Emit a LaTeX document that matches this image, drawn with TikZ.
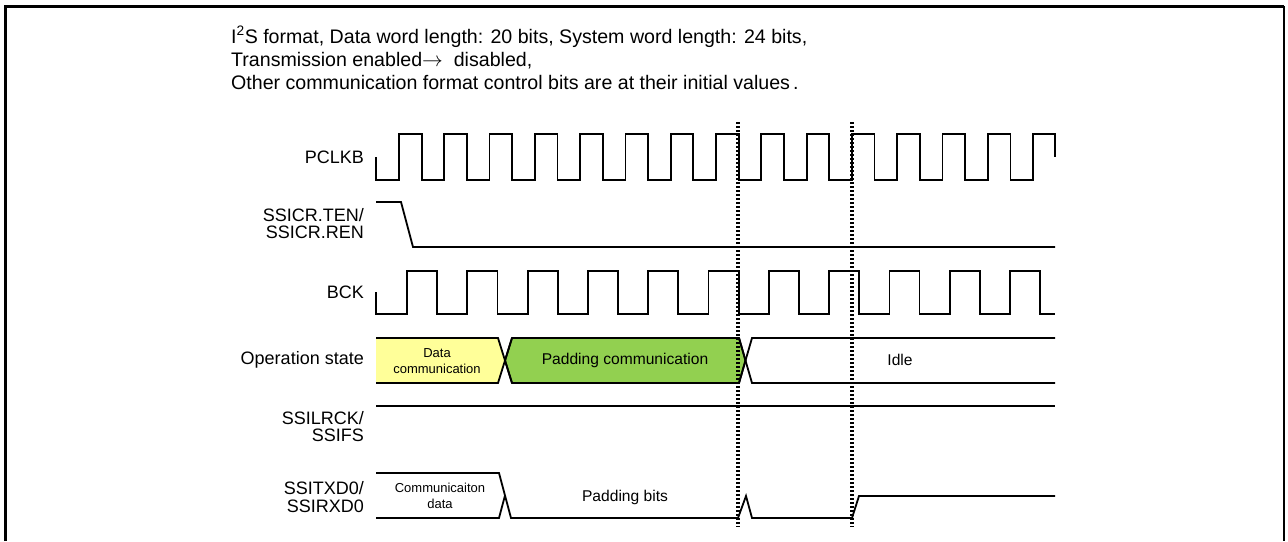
\documentclass[tikz,border=0pt]{standalone}
\usepackage{fontspec}
\setmainfont{Liberation Sans}
\definecolor{datayellow}{HTML}{FFFF99}
\definecolor{padgreen}{HTML}{92D050}
\begin{document}
\begin{tikzpicture}[x=1pt,y=-1pt,
  sig/.style={line width=1.8pt,line join=miter},
  lbl/.style={anchor=east,align=right,inner sep=0pt,font=\fontsize{18}{17.5}\selectfont},
  hdr/.style={anchor=base west,inner sep=0pt,font=\fontsize{19.6}{22}\selectfont},
  mid/.style={inner sep=0pt,align=center,font=\fontsize{15.6}{18}\selectfont},
  small/.style={inner sep=0pt,align=center,font=\fontsize{13}{16}\selectfont},
  mark line/.style={line width=3.2pt,dash pattern=on 2.4pt off 1.6pt}]
\useasboundingbox (0,0) rectangle (1288,541);
% frame
\draw[line width=3pt] (5.5,541) -- (5.5,6) -- (1283.5,6);
\draw[line width=2pt] (1283.5,6) -- (1283.5,541);
% header
\node[hdr] (h1) at (231,43) {I\textsuperscript{2}S format, Data word length: 20 bits, System word length: 24 bits,};
\node[hdr] (h2) at (231,66) {Transmission enabled$\rightarrow$\ \ disabled,};
\node[hdr] (h3) at (231,89) {Other communication format control bits are at their initial values\,.};
% labels
\node[lbl] (lpclk) at (364,157) {PCLKB};
\node[lbl] (lten) at (364,223.5) {SSICR.TEN/\\SSICR.REN};
\node[lbl] (lbck) at (364,292) {BCK};
\node[lbl] (lop) at (364,360) {Operation state};
\node[lbl] (llr) at (364,426.5) {SSILRCK/\\SSIFS};
\node[lbl] (ltx) at (364,497) {SSITXD0/\\SSIRXD0};
% PCLKB
\draw[sig] (376,157) -- (376,180)
  foreach \k in {0,...,13} { -- ({399+45.29*\k},180) -- ++(0,-46) -- ++(22.64,0) -- ++(0,46) }
  -- (1033,180) -- (1033,134) -- (1055,134) -- (1055,157);
% SSICR.TEN
\draw[sig] (376,202) -- (401,202) -- (413,247) -- (1055,247);
% BCK
\draw[sig] (376,292) -- (376,314)
  foreach \k in {0,...,10} { -- ({407+60.3*\k},314) -- ++(0,-43) -- ++(30.15,0) -- ++(0,43) }
  -- (1055,314);
% Operation state
\fill[datayellow] (376,338) -- (498,338) -- (505,360.5) -- (498,383) -- (376,383) -- cycle;
\draw[sig,fill=padgreen] (505,360.5) -- (512,338) -- (739,338) -- (745.5,360.5) -- (739,383) -- (512,383) -- cycle;
\draw[sig] (376,338) -- (498,338) -- (512,383);
\draw[sig] (376,383) -- (498,383) -- (512,338);
\draw[sig] (739,338) -- (752,383) -- (1055,383);
\draw[sig] (739,383) -- (752,338) -- (1055,338);
\node[small] (tdata) at (437,361) {Data\\communication};
\node[mid] (tpad) at (625,360) {Padding communication};
\node[mid] (tidle) at (900,360) {Idle};
% SSILRCK
\draw[sig] (376,406) -- (1055,406);
% SSITXD0
\draw[sig] (376,473) -- (499,473) -- (511,518) -- (738,518) -- (746,496) -- (752,518) -- (852,518) -- (859,496) -- (1055,496);
\draw[sig] (376,518) -- (499,518) -- (505,495.5);
\node[small] (tcd) at (440,495.5) {Communicaiton\\data};
\node[mid] (tpb) at (625,497) {Padding bits};
% markers
\draw[mark line] (738,122) -- (738,527);
\draw[mark line] (852,122) -- (852,527);
\end{tikzpicture}
\end{document}
